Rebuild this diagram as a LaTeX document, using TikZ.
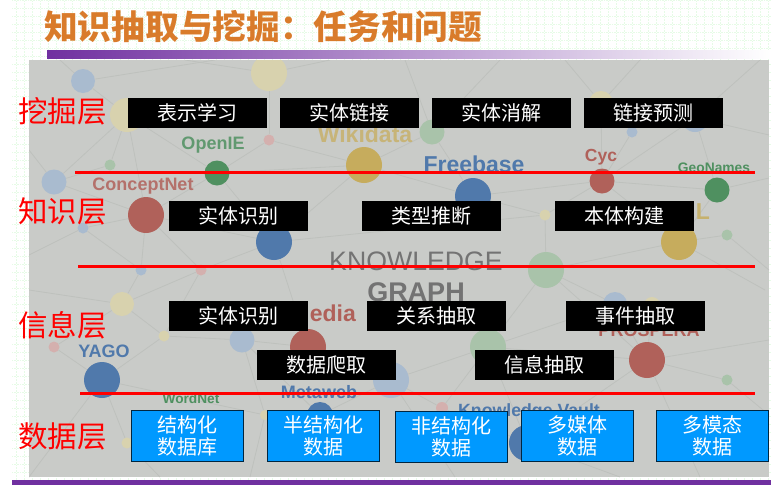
\documentclass[tikz,border=0pt]{standalone}
\usepackage{fontspec}
\setsansfont{Liberation Sans}
\newfontfamily\cjk{Noto Sans CJK SC}
\usetikzlibrary{positioning}
\definecolor{panelgray}{HTML}{C9CBC8}
\definecolor{netgray}{HTML}{BEC1BD}
\definecolor{gridgreen}{HTML}{E6FBE6}
\definecolor{slidepurple}{HTML}{7030A0}
\definecolor{titleorange}{HTML}{D97B2B}
\definecolor{boxblue}{HTML}{0099FF}
\definecolor{kgblue}{HTML}{5079AB}
\definecolor{kgred}{HTML}{B0615A}
\definecolor{kggreen}{HTML}{4F9060}
\definecolor{kgyellow}{HTML}{C6AC5D}
\definecolor{paleblue}{HTML}{A9BBCF}
\definecolor{palered}{HTML}{D4B0AE}
\definecolor{palegreen}{HTML}{A9C3AA}
\definecolor{paleyellow}{HTML}{D8D2AE}
\newcommand\fsize[1]{\fontsize{#1}{#1}\selectfont}
\tikzset{
  dot/.style={circle,inner sep=0pt,draw=none},
  netline/.style={draw=netgray,line width=0.8pt},
  kglabel/.style={inner sep=0pt,font=\sffamily\bfseries\fsize{#1}},
  task/.style={fill=black,text=white,minimum width=139pt,minimum height=30pt,inner sep=0pt,font=\cjk\fsize{20}},
  source/.style={fill=boxblue,draw=black!75!boxblue,line width=1pt,text=white,minimum width=112pt,minimum height=51pt,inner sep=0pt,align=center,font=\cjk\fontsize{20}{22}\selectfont},
  layer/.style={text=red,inner sep=0pt,anchor=west,font=\cjk\fsize{29.5}},
  cut/.style={draw=red,line width=3pt}
}
\begin{document}
\begin{tikzpicture}[x=1pt,y=-1pt,node distance=152pt,on grid]
  \useasboundingbox (0,0) rectangle (781,485);
  \draw[gridgreen,densely dotted,line width=0.6pt,xstep=8pt,ystep=8pt] (12,0) grid (771,480);
  \node[inner sep=0pt,minimum width=724pt,minimum height=8pt,left color=slidepurple,right color=white] (bar) at (409,54) {};
  \node[fill=slidepurple,inner sep=0pt,minimum width=759pt,minimum height=5pt] (footer) at (391.5,482.5) {};
  \node[inner sep=0pt,anchor=west,text=titleorange,font=\cjk\bfseries\fsize{33.7}] (title) at (44,27) {知识抽取与挖掘\char"FF1A 任务和问题};
  \fill[panelgray] (29,60) rectangle (769,477);
  \begin{scope}
    \clip (29,60) rectangle (769,477);
    \foreach \name/\px/\py/\size/\col in {
      b1/83/81/24/paleblue, y1/269/73/36/paleyellow, y2/127/115/34/paleyellow, p1/269/140/11/palered,
      g1/110/165/11/palegreen, b2/54/182/25/paleblue, G2/217/173/25/kggreen, y3/364/165/36/kgyellow,
      g3/432/132/25/palegreen, R1/146/215/36/kgred, b3/83/228/11/paleblue, B1/274/242/36/kgblue,
      B2/473/196/36/kgblue, y4/601/103/24/paleyellow, b4/632/132/11/paleblue, b5/695/118/28/paleblue,
      R2/602/181/25/kgred, G3/717/190/25/kggreen, y5/545/215/11/paleyellow, Y1/679/242/36/kgyellow,
      g4/727/235/11/palegreen, b6/141/270/11/paleblue, p2/201/270/11/palered, y6/122/304/24/paleyellow,
      g5/546/270/36/palegreen, p3/54/347/11/palered, y7/164/336/11/paleyellow, b7/242/340/25/paleblue,
      R3/308/347/36/kgred, B3/102/380/36/kgblue, b8/391/380/36/paleblue, g6/488/347/36/palegreen,
      b9/615/304/24/paleblue, y8/652/305/16/paleyellow, R4/647/360/36/kgred, g7/727/380/11/palegreen,
      p4/442/408/12/palered, y9/127/443/11/paleyellow, B4/320/415/26/kgblue, B5/527/443/36/kgblue,
      y10/265/415/10/paleyellow}
      \node[dot,fill=\col,minimum size=\size pt] (\name) at (\px,\py) {};
    \foreach \name/\px/\py in {
      e1/60/60, e2/185/60, e3/215/60, e4/330/60, e5/405/60, e6/500/60, e7/565/60, e8/640/60, e9/760/60,
      e10/769/135, e11/769/178, e12/769/270, e13/769/340, e14/769/415, e15/700/477, e16/620/477,
      e17/455/477, e18/250/477, e19/160/477, e20/29/477, e21/29/290, e22/29/150, e23/29/255, e24/765/290}
      \coordinate (\name) at (\px,\py);
    \path[netline]
      (e1) edge (b1) (e2) edge (y1) (e3) edge (b1) (e4) edge (y1) (e5) edge (g3) (e6) edge (g3)
      (e7) edge (y4) (e8) edge (y4) (e9) edge (b5) (e10) edge (b5) (e11) edge (G3) (e12) edge (g4)
      (e24) edge (Y1) (e13) edge (R4) (e14) edge (g7) (e15) edge (R4) (e16) edge (B5) (e17) edge (b8)
      (e18) edge (y10) (e19) edge (y9) (e20) edge (B3) (e21) edge (y6) (e22) edge (b2) (e23) edge (b3)
      (b1) edge (y2) (y2) edge (b2) (y2) edge (g1) (y2) edge (R1) (y2) edge (G2)
      (y1) edge (p1) (p1) edge (y3) (p1) edge (G2) (G2) edge (R1) (G2) edge (B1)
      (g1) edge (b2) (b2) edge (R1) (R1) edge (b3) (R1) edge (B1) (R1) edge (b6) (R1) edge (p2)
      (y3) edge (G2) (y3) edge (B1) (y3) edge (g3) (y3) edge (B2) (g3) edge (B2) (B2) edge (R2)
      (y4) edge (R2) (b4) edge (R2) (b5) edge (R2) (b5) edge (G3) (R2) edge (G3) (R2) edge (Y1)
      (R2) edge (y5) (B2) edge (y5) (y5) edge (g5) (G3) edge (Y1) (Y1) edge (g4) (B1) edge (p2)
      (B1) edge (y5) (Y1) edge (g5) (g5) edge (b9) (g5) edge (g6) (g5) edge (R4)
      (b6) edge (y6) (p2) edge (y6) (p2) edge (y7) (b3) edge (b6) (y6) edge (p3) (y6) edge (y7)
      (y7) edge (b7) (y7) edge (B3) (p3) edge (B3) (B3) edge (y9) (B3) edge (y10) (b7) edge (R3)
      (b7) edge (y10) (b7) edge (B4) (R3) edge (b8) (R3) edge (B1) (b8) edge (g6) (g6) edge (b9)
      (g6) edge (R4) (g6) edge (p4) (b9) edge (R4) (y8) edge (R4) (R4) edge (g7) (g6) edge (B5)
      (R4) edge (B5) (p4) edge (b8) (p4) edge (B5) (b8) edge (B4);
  \end{scope}
  \node[kglabel=18,text=kggreen!85!panelgray] (openie) at (213,145) {OpenIE};
  \node[kglabel=18,text=kgred!85!panelgray] (conceptnet) at (143,186) {ConceptNet};
  \node[kglabel=23,text=kgyellow!75!panelgray] (wikidata) at (365,134) {Wikidata};
  \node[kglabel=23,text=kgblue] (freebase) at (474,164) {Freebase};
  \node[kglabel=17.5,text=kgred] (cyc) at (601,157) {Cyc};
  \node[kglabel=13.8,text=kggreen] (geonames) at (714,168) {GeoNames};
  \node[kglabel=23,text=kgyellow!85!panelgray] (lonely) at (703,212) {L};
  \node[inner sep=0pt,text=black!55,font=\sffamily\fsize{26.7}] (knowledge) at (416,261) {KNOWLEDGE};
  \node[kglabel=27,text=black!55] (graph) at (416,292) {GRAPH};
  \node[kglabel=23,text=kgred,anchor=east] (pedia) at (356,313) {edia};
  \node[kglabel=18,text=kgred] (prospera) at (649,330) {PROSPERA};
  \node[kglabel=18,text=kgblue] (yago) at (104,351) {YAGO};
  \node[kglabel=13.7,text=kggreen] (wordnet) at (191,399) {WordNet};
  \node[kglabel=18,text=kgblue] (metaweb) at (319,392) {Metaweb};
  \node[kglabel=17.7,text=kgblue] (vault) at (529,412) {Knowledge Vault};
  \coordinate (cutAl) at (75,172);
  \coordinate (cutAr) at (755,172);
  \coordinate (cutBl) at (78,266);
  \coordinate (cutBr) at (755,266);
  \coordinate (cutCl) at (80,393);
  \coordinate (cutCr) at (755,393);
  \draw[cut] (cutAl) -- (cutAr);
  \draw[cut] (cutBl) -- (cutBr);
  \draw[cut] (cutCl) -- (cutCr);
  \node[layer] (mine) at (18,111) {挖掘层};
  \node[layer] (know) at (18,211) {知识层};
  \node[layer] (info) at (18,325) {信息层};
  \node[layer] (data) at (18,436) {数据层};
  \node[task] (repr) at (197.5,113) {表示学习};
  \node[task] (linking) [right=of repr] {实体链接};
  \node[task] (resolve) [right=of linking] {实体消解};
  \node[task] (predict) [right=of resolve] {链接预测};
  \node[task] (ner) at (238.5,216) {实体识别};
  \node[task] (typing) [right=193pt of ner] {类型推断};
  \node[task] (onto) [right=193pt of typing] {本体构建};
  \node[task] (nerb) at (238.5,316) {实体识别};
  \node[task] (relation) [right=198pt of nerb] {关系抽取};
  \node[task] (event) [right=199pt of relation] {事件抽取};
  \node[task] (crawl) at (326.5,365) {数据爬取};
  \node[task] (extract) [right=218pt of crawl] {信息抽取};
  \node[source] (db) at (187.5,435.5) {结构化\\数据库};
  \node[source] (semi) at (323,435.5) {半结构化\\数据};
  \node[source] (unstruct) at (451,436.5) {非结构化\\数据};
  \node[source] (media) at (577,435.5) {多媒体\\数据};
  \node[source] (modal) at (712,435.5) {多模态\\数据};
\end{tikzpicture}
\end{document}
